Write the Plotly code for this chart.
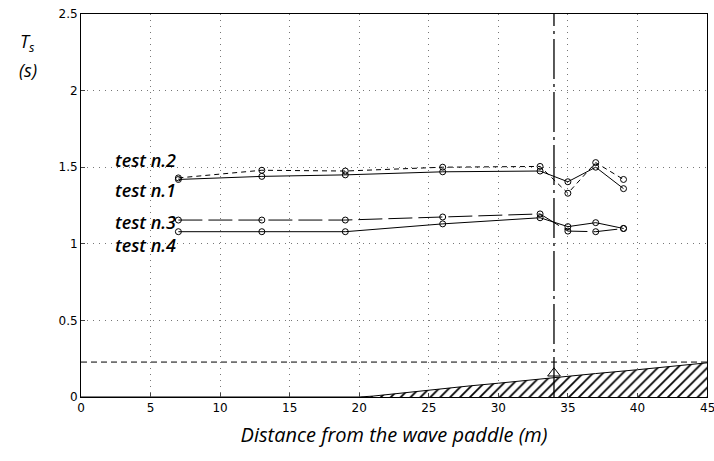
import plotly.graph_objects as go

x_pos = [7, 13, 19, 26, 33, 35, 37, 39]
test1 = [1.42, 1.44, 1.45, 1.47, 1.475, 1.405, 1.50, 1.36]
test2 = [1.43, 1.48, 1.475, 1.50, 1.505, 1.33, 1.53, 1.42]
test3 = [1.155, 1.155, 1.155, 1.175, 1.195, 1.083, 1.079, 1.10]
test4 = [1.079, 1.079, 1.079, 1.13, 1.17, 1.112, 1.138, 1.10]

bed_x = [0, 20, 21, 22, 23.5, 25, 28, 30, 34, 37, 40, 43, 45]
bed_y = [0, 0, 0.006, 0.016, 0.032, 0.047, 0.073, 0.09, 0.128, 0.153, 0.178, 0.203, 0.223]
swl_level = 0.228
shoreline_x = 34
x_ticks = list(range(0, 50, 5))
y_ticks = [0, 0.5, 1, 1.5, 2, 2.5]
y_tick_text = ["0", "0.5", "1", "1.5", "2", "2.5"]

TXT = "Open Sans"

fig = go.Figure()

fig.add_trace(go.Scatter(
    x=bed_x, y=bed_y, mode="lines", line=dict(color="black", width=1),
    fill="tozeroy", fillcolor="white",
    fillpattern=dict(shape="/", fgcolor="black", bgcolor="white", size=7, solidity=0.25,
                     fillmode="replace"),
    showlegend=False, hoverinfo="skip"))

fig.add_trace(go.Scatter(
    x=[0, 45], y=[swl_level, swl_level], mode="lines",
    line=dict(color="black", width=1, dash="6px,4px"), showlegend=False))

fig.add_trace(go.Scatter(
    x=[shoreline_x, shoreline_x], y=[0, 2.5], mode="lines",
    line=dict(color="black", width=1.3, dash="40px,5px,3px,5px"), showlegend=False))

fig.add_trace(go.Scatter(
    x=[shoreline_x], y=[0.155], mode="markers",
    marker=dict(symbol="triangle-up-open", size=11, color="black", line=dict(width=1)),
    showlegend=False))

series = [
    (test1, "solid"),
    (test2, "5px,4px"),
    (test3, "24px,6px"),
    (test4, "solid"),
]
for ys, dash in series:
    fig.add_trace(go.Scatter(
        x=x_pos, y=ys, mode="lines+markers",
        line=dict(color="black", width=1, dash=dash),
        marker=dict(symbol="circle-open", size=6, color="black", line=dict(width=1)),
        showlegend=False))

labels = [("test n.2", 1.545), ("test n.1", 1.35), ("test n.3", 1.145), ("test n.4", 0.99)]
for txt, yv in labels:
    fig.add_annotation(x=7.0, y=yv, text=txt, showarrow=False, xanchor="right",
                       yanchor="middle",
                       font=dict(family=TXT, size=18, color="black", style="italic", weight=600))

fig.add_annotation(xref="paper", yref="paper", x=-0.085, y=0.885, text="<i>T<sub>s</sub></i>",
                   showarrow=False, xanchor="center", yanchor="bottom",
                   font=dict(family=TXT, size=18, color="black"))
fig.add_annotation(xref="paper", yref="paper", x=-0.085, y=0.89, text="<i>(s)</i>",
                   showarrow=False, xanchor="center", yanchor="top",
                   font=dict(family=TXT, size=18, color="black"))
fig.add_annotation(x=45, y=0, yref="paper", text="45", showarrow=False, xanchor="center",
                   yanchor="top", yshift=-2,
                   font=dict(family="DejaVu Sans", size=12, color="black"))

grid = dict(showgrid=True, gridcolor="#777", griddash="1px,5px", gridwidth=1)
fig.update_xaxes(range=[0, 45], tickvals=x_ticks[:-1], ticks="inside", ticklen=4, **grid,
                 showline=True, linecolor="black", linewidth=1, mirror=True,
                 zeroline=False, tickfont=dict(family="DejaVu Sans", size=12, color="black"),
                 title=dict(text="<i>Distance from the wave paddle (m)</i>",
                            font=dict(family=TXT, size=20, color="black"), standoff=13))
fig.update_yaxes(range=[0, 2.5], tickvals=y_ticks, ticktext=y_tick_text, ticks="inside", ticklen=4,
                 **grid, showline=True, linecolor="black", linewidth=1, mirror=True,
                 zeroline=False, tickfont=dict(family="DejaVu Sans", size=12, color="black"))

fig.update_layout(width=714, height=461, margin=dict(l=81, r=7, t=14, b=64),
                  plot_bgcolor="white", paper_bgcolor="white", showlegend=False)

fig.write_html("out.html")
